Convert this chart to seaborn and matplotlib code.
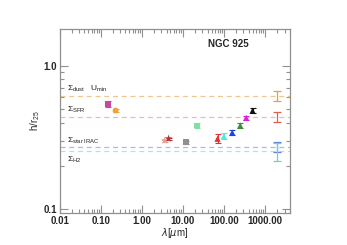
import matplotlib
matplotlib.use("Agg")
import matplotlib.pyplot as plt
import matplotlib.ticker as mticker
import numpy as np
import pandas as pd
import seaborn as sns

# band measurements: h/r25 against wavelength
bands = ["FUV", "NUV", "IRAC3.6", "IRAC4.5", "W12", "MIPS24", "PACS70",
         "PACS100", "PACS160", "SPIRE250", "SPIRE350", "SPIRE500"]
wavelength = [0.153, 0.23, 3.6, 4.5, 12.0, 22.0, 70.0, 100.0, 160.0, 250.0, 350.0, 500.0]
h_r25 = [0.54, 0.486, 0.300, 0.310, 0.293, 0.382, 0.309, 0.322, 0.341, 0.382, 0.432, 0.484]
h_err = [0.022, 0.010, 0.005, 0.005, 0.007, 0.014, 0.022, 0.015, 0.013, 0.015, 0.014, 0.018]
band_colors = ["#c8489c", "#f0a040", "#e8a090", "#b03838", "#909090", "#80e0a0",
               "#e03030", "#50e8e8", "#2040e0", "#3c8c3c", "#e020e0", "#101010"]
band_markers = ["s", "o", "*", "*", "s", "s", "^", "^", "^", "^", "^", "^"]
band_sizes = [18, 18, 34, 34, 18, 18, 20, 20, 20, 20, 20, 20]

# surface-density scale lengths (horizontal lines) and their ranges
maps = ["dust", "SFR", "star", "H2"]
map_value = [0.617, 0.437, 0.270, 0.252]
map_lo = [0.570, 0.404, 0.248, 0.217]
map_hi = [0.667, 0.474, 0.294, 0.288]
map_colors = ["#e8a040", "#e06050", "#6080e0", "#60d8d0"]
line_colors = ["#ecc890", "#f4b8b0", "#a8b8f0", "#a8e8e0"]
map_x = 2000.0
map_labels = [r"$\Sigma_{\rm dust}$   U$_{\rm min}$", r"$\Sigma_{\rm SFR}$",
              r"$\Sigma_{\rm star\ IRAC}$", r"$\Sigma_{\rm H2}$"]
label_y = [0.69, 0.49, 0.30, 0.222]

sns.set_style("ticks")
plt.rcParams["font.family"] = ["Liberation Sans", "DejaVu Sans"]
plt.rcParams["mathtext.fontset"] = "custom"
plt.rcParams["mathtext.rm"] = "Liberation Sans"

fig = plt.figure(figsize=(3.47, 2.45), dpi=100)
ax = fig.add_axes([0.172, 0.131, 0.664, 0.751])

for val, c in zip(map_value, line_colors):
    ax.axhline(val, color=c, ls=(0, (4, 3)), lw=0.9, zorder=1)

for val, lo, hi, c in zip(map_value, map_lo, map_hi, map_colors):
    ax.errorbar([map_x], [val], yerr=[[val - lo], [hi - val]], fmt="none",
                ecolor=c, elinewidth=0.9, capsize=3, capthick=0.9, zorder=3)

for wl, h, e, c in zip(wavelength, h_r25, h_err, band_colors):
    ax.errorbar([wl], [h], yerr=[e], fmt="none", ecolor=c,
                elinewidth=0.8, capsize=2.5, capthick=0.8, zorder=3)

df = pd.DataFrame({"wl": wavelength, "h": h_r25, "band": bands})
sns.scatterplot(data=df, x="wl", y="h", hue="band", style="band", size="band",
                palette=dict(zip(bands, band_colors)),
                markers=dict(zip(bands, band_markers)),
                sizes=dict(zip(bands, band_sizes)),
                edgecolor="none", legend=False, ax=ax, zorder=4)

ax.set_xscale("log")
ax.set_yscale("log")
ax.set_xlim(0.01, 4100)
ax.set_ylim(0.094, 1.8)

ax.set_xticks([0.01, 0.1, 1, 10, 100, 1000])
ax.set_xticklabels(["0.01", "0.10", "1.00", "10.00", "100.00", "1000.00"])
ax.set_yticks([0.1, 1.0])
ax.set_yticklabels(["0.1", "1.0"])
ax.xaxis.set_minor_locator(mticker.LogLocator(base=10, subs=np.arange(2, 10)))
ax.yaxis.set_minor_locator(mticker.LogLocator(base=10, subs=np.arange(2, 10)))
ax.xaxis.set_minor_formatter(mticker.NullFormatter())
ax.yaxis.set_minor_formatter(mticker.NullFormatter())

ax.tick_params(which="both", direction="in", top=True, right=True,
               color="#909090", width=0.8)
ax.tick_params(which="major", length=6, labelsize=7, pad=2)
ax.tick_params(which="minor", length=3)
for lab in ax.get_xticklabels() + ax.get_yticklabels():
    lab.set_fontweight("bold")
for sp in ax.spines.values():
    sp.set_color("#909090")
    sp.set_linewidth(0.9)

ax.set_xlabel(r"$\lambda$[$\mu$m]", fontsize=7, labelpad=0)
ax.set_ylabel(r"h/r$_{25}$", fontsize=7, labelpad=1)

for txt, yy in zip(map_labels, label_y):
    ax.text(0.015, yy, txt, fontsize=6, va="center", ha="left", color="#202020")

ax.text(126, 1.42, "NGC 925", fontsize=7, fontweight="bold", ha="center", va="center")

fig.savefig("out.png", dpi=100, facecolor="white")
